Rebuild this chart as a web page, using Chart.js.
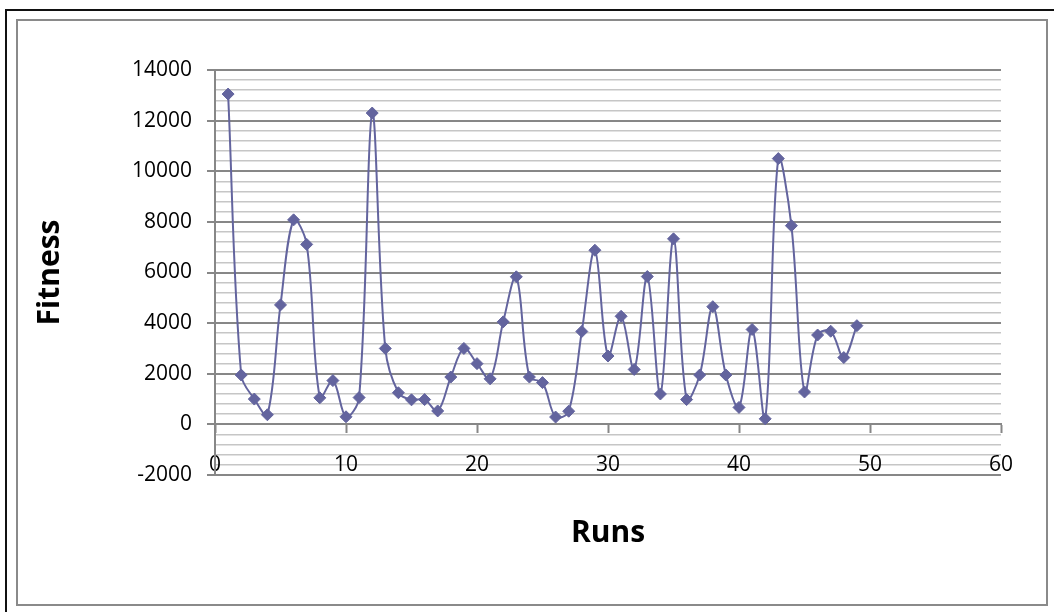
<!DOCTYPE html>
<html>
<head>
<meta charset="utf-8">
<title>Fitness per run</title>
<script src="https://cdn.jsdelivr.net/npm/chart.js@4/dist/chart.umd.min.js"></script>
<style>
  html, body { margin: 0; padding: 0; background: #fff; width: 1054px; height: 612px; overflow: hidden; }
  /* outer black frame (top and left edges visible) */
  #frame { position: absolute; left: 5px; top: 9px; width: 1200px; height: 800px;
           border-left: 2px solid #111; border-top: 2px solid #111; }
  /* grey chart border */
  #panel { position: absolute; left: 16px; top: 19px; width: 1028px; height: 583px;
           border: 2px solid #8a8a8a; }
  #wrap { position: absolute; left: 0; top: 0; width: 1054px; height: 612px; }
</style>
</head>
<body>
<div id="frame"></div>
<div id="panel"></div>
<div id="wrap"><canvas id="chart" width="1054" height="612"></canvas></div>
<script>
// Run numbers and the fitness reached in each run
const runs = [1, 2, 3, 4, 5, 6, 7, 8, 9, 10,
              11, 12, 13, 14, 15, 16, 17, 18, 19, 20,
              21, 22, 23, 24, 25, 26, 27, 28, 29, 30,
              31, 32, 33, 34, 35, 36, 37, 38, 39, 40,
              41, 42, 43, 44, 45, 46, 47, 48, 49];
const fitness = [13050, 1950, 1000, 380, 4720, 8080, 7110, 1050, 1730, 300,
                 1060, 12300, 3000, 1250, 970, 980, 530, 1870, 3000, 2400,
                 1800, 4050, 5830, 1870, 1650, 290, 520, 3670, 6880, 2700,
                 4270, 2170, 5840, 1200, 7330, 980, 1950, 4650, 1950, 670,
                 3750, 220, 10500, 7850, 1280, 3530, 3680, 2640, 3900];

// Axis tick labels
const xTickLabels = [0, 10, 20, 30, 40, 50, 60];
const yTickLabels = [-2000, 0, 2000, 4000, 6000, 8000, 10000, 12000, 14000];
const yMinorStep = 400;

const lineColor = '#63649e';
const axisGray = '#878787';
const minorGray = '#c6c6c6';
const labelFont = { family: 'Open Sans', size: 21 };
const titleFont = { family: 'Open Sans', size: 30, weight: 'bold' };

const points = runs.map((r, i) => ({ x: r, y: fitness[i] }));
const isMajorY = v => yTickLabels.includes(v);

new Chart(document.getElementById('chart'), {
  type: 'line',
  data: {
    datasets: [{
      label: 'Fitness',
      data: points,
      borderColor: lineColor,
      borderWidth: 2,
      tension: 0.35,
      fill: false,
      pointStyle: 'rectRot',
      pointRadius: 6,
      pointBackgroundColor: lineColor,
      pointBorderColor: lineColor,
      pointBorderWidth: 1
    }]
  },
  options: {
    responsive: false,
    animation: false,
    devicePixelRatio: 1,
    layout: { padding: { left: 20, top: 70, right: 53, bottom: 61 } },
    plugins: {
      legend: { display: false },
      tooltip: { enabled: false },
      title: {
        display: true,
        text: 'Runs',
        position: 'bottom',
        fullSize: false,
        color: '#000',
        font: titleFont,
        padding: { top: 40, bottom: 0 }
      }
    },
    scales: {
      x: {
        type: 'linear',
        min: xTickLabels[0],
        max: xTickLabels[xTickLabels.length - 1],
        position: { y: 0 },
        afterFit(scale) { scale.height = 0; },
        ticks: {
          stepSize: 10,
          autoSkip: false,
          maxRotation: 0,
          padding: 20,
          color: '#000',
          font: labelFont,
          callback: v => xTickLabels.includes(v) ? String(v) : ''
        },
        grid: {
          drawOnChartArea: false,
          drawTicks: true,
          tickLength: 8,
          tickColor: axisGray,
          tickWidth: 2
        },
        border: { display: true, color: axisGray, width: 2 }
      },
      y: {
        min: yTickLabels[0],
        max: yTickLabels[yTickLabels.length - 1],
        afterFit(scale) { scale.width = 195; },
        ticks: {
          stepSize: yMinorStep,
          autoSkip: false,
          padding: 15,
          color: '#000',
          font: labelFont,
          callback: v => isMajorY(v) ? String(v) : ''
        },
        grid: {
          color: c => isMajorY(c.tick.value) ? axisGray : minorGray,
          lineWidth: c => isMajorY(c.tick.value) ? 2 : 1.6,
          tickLength: 8,
          tickWidth: 2,
          tickColor: c => isMajorY(c.tick.value) ? axisGray : 'rgba(0,0,0,0)'
        },
        border: { display: true, color: axisGray, width: 2 },
        title: {
          display: true,
          text: 'Fitness',
          color: '#000',
          font: titleFont,
          padding: { top: 12, bottom: 0 }
        }
      }
    }
  }
});
</script>
</body>
</html>
